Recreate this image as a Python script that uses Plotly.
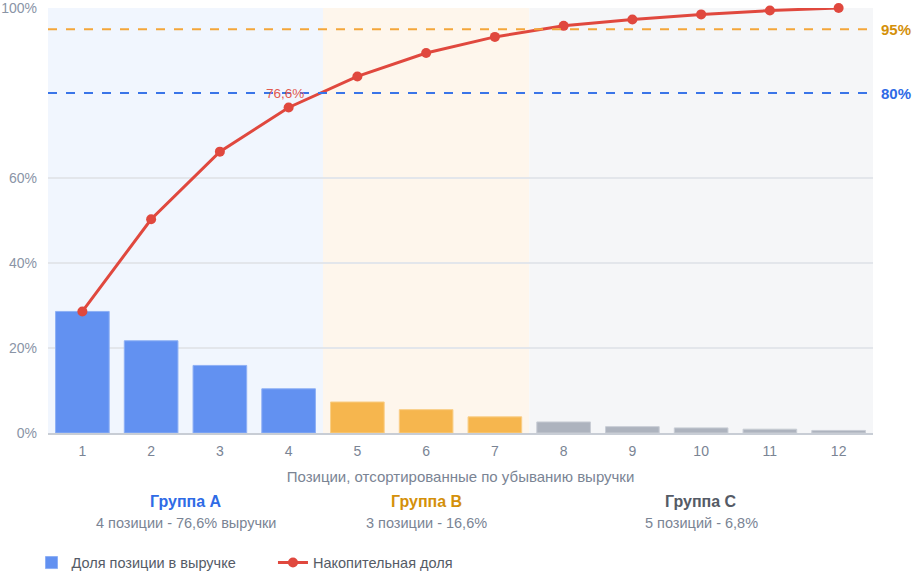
import plotly.graph_objects as go

positions = [1, 2, 3, 4, 5, 6, 7, 8, 9, 10, 11, 12]
shares = [28.6, 21.7, 15.9, 10.4, 7.3, 5.5, 3.8, 2.6, 1.5, 1.2, 0.9, 0.6]
cumulative = [28.6, 50.3, 66.2, 76.6, 83.9, 89.4, 93.2, 95.8, 97.3, 98.5, 99.4, 100.0]
groups = ["A", "A", "A", "A", "B", "B", "B", "C", "C", "C", "C", "C"]

group_names = ["Группа A", "Группа B", "Группа C"]
group_notes = ["4 позиции - 76,6% выручки", "3 позиции - 16,6%", "5 позиций - 6,8%"]
group_spans = [(0.5, 4.5), (4.5, 7.5), (7.5, 12.5)]
thresholds = [80, 95]

bar_colors = {"A": "#6291F1", "B": "#F6B64E", "C": "#ADB3BE"}
edge_colors = {"A": "#8EB0F5", "B": "#F9CE86", "C": "#C8CDD5"}
band_colors = ["#F1F6FE", "#FEF6EC", "#F5F6F8"]
title_colors = ["#2F6BE6", "#D4900A", "#555B66"]
line_colors = {80: "#3A75E8", 95: "#F4A63A"}
label_colors = {80: "#2F6BE6", 95: "#D4900A"}

font = "Liberation Sans, Arial, sans-serif"
gap = "\u00a0" * 8

fig = go.Figure()

fig.add_trace(go.Bar(
    x=positions, y=shares, name="Доля позиции в выручке" + gap,
    marker=dict(color=[bar_colors[g] for g in groups],
                line=dict(color=[edge_colors[g] for g in groups], width=1)),
    width=0.78,
))

fig.add_trace(go.Scatter(
    x=positions, y=cumulative, name="Накопительная доля",
    mode="lines+markers",
    line=dict(color="#E0483E", width=3),
    marker=dict(color="#E0483E", size=10),
    cliponaxis=False,
))

# фон групп
for (x0, x1), c in zip(group_spans, band_colors):
    fig.add_shape(type="rect", xref="x", yref="paper", x0=x0, x1=x1, y0=0, y1=1,
                  fillcolor=c, line_width=0, layer="below")

# пороговые линии
for t in thresholds:
    fig.add_shape(type="line", xref="paper", yref="y", x0=0, x1=1, y0=t, y1=t,
                  line=dict(color=line_colors[t], width=2, dash="dash"))
    fig.add_annotation(x=1, xref="paper", y=t, yref="y", text=f"<b>{t}%</b>",
                       showarrow=False, xanchor="left", xshift=6,
                       font=dict(size=15, color=label_colors[t], family=font))

fig.add_annotation(x=4, y=cumulative[3], text="76,6%", showarrow=False,
                   yshift=14, xshift=-4,
                   font=dict(size=13.5, color="#E25A50", family=font))

for (x0, x1), name, note, c in zip(group_spans, group_names, group_notes, title_colors):
    xc = (x0 + x1) / 2
    fig.add_annotation(x=xc, xref="x", y=-0.162, yref="paper", yanchor="middle",
                       text=f"<b>{name}</b>", showarrow=False,
                       font=dict(size=16, color=c, family=font))
    fig.add_annotation(x=xc, xref="x", y=-0.212, yref="paper", yanchor="middle",
                       text=note, showarrow=False,
                       font=dict(size=14.5, color="#7A8494", family=font))

fig.update_layout(
    width=924, height=576,
    margin=dict(l=48, r=51, t=8, b=143, autoexpand=False),
    plot_bgcolor="white", paper_bgcolor="white",
    font=dict(family=font, color="#8A94A6", size=14),
    showlegend=True,
    legend=dict(orientation="h", x=-0.020, xanchor="left", y=-0.305, yanchor="middle",
                font=dict(size=14.5, color="#555B66")),
    xaxis=dict(
        range=[0.5, 12.5], tickmode="array", tickvals=positions,
        showgrid=False, zeroline=False, showline=True, linecolor="#C8CDD5", linewidth=2,
        ticks="", tickfont=dict(size=14, color="#7A8494"), ticklabelstandoff=4,
        title=dict(text="Позиции, отсортированные по убыванию выручки",
                   font=dict(size=15, color="#7A8494"), standoff=14),
    ),
    yaxis=dict(
        range=[0, 100], tickmode="array", tickvals=[0, 20, 40, 60, 100],
        ticktext=["0%", "20%", "40%", "60%", "100%"],
        showgrid=True, gridcolor="#E3E6EB", gridwidth=1.5, zeroline=False,
        tickfont=dict(size=14, color="#8A94A6"), ticks="", ticklabelstandoff=10,
        ticklabeloverflow="allow", layer="below traces",
    ),
)

# убираем отступ страницы, чтобы фигура стояла в углу окна
fig.write_html("out.html", config={"displayModeBar": False},
               post_script="document.body.style.margin='0';")
